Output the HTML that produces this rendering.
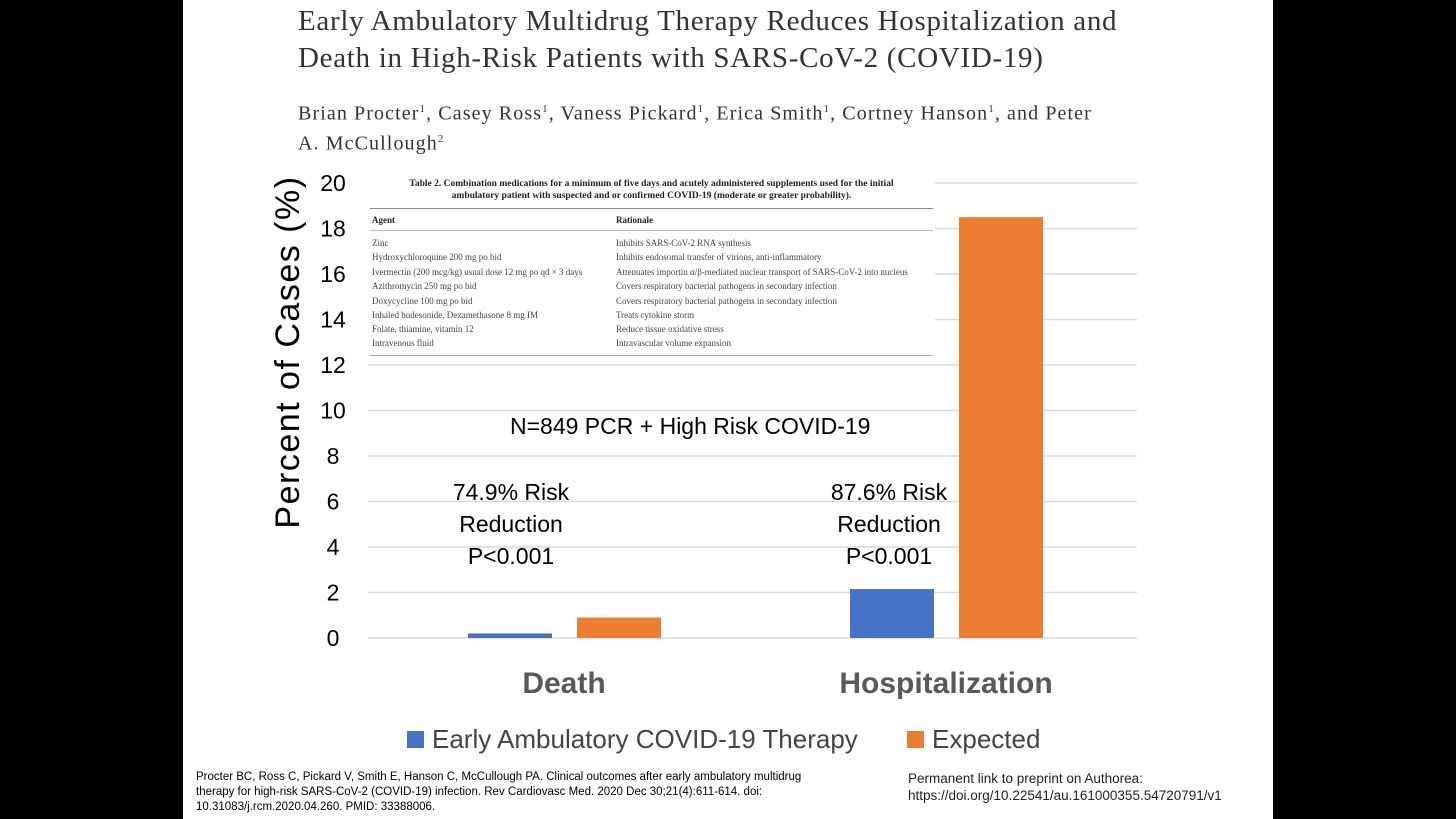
<!DOCTYPE html>
<html><head><meta charset="utf-8"><style>
body{margin:0;width:1456px;height:819px;background:#000;overflow:hidden;font-family:"Liberation Sans",sans-serif}
#slide{position:absolute;left:183px;top:0;width:1090px;height:819px;background:#fff}
.serif{font-family:"Liberation Serif",serif;color:#333}
.abs{position:absolute}
#tbl{position:absolute;left:368px;top:172px;width:567px;height:188px;background:#fff;font-family:"Liberation Serif",serif;color:#444;font-size:9px}
#tbl .row{position:absolute;left:4px;white-space:nowrap}
#tbl .r2{position:absolute;left:248px;white-space:nowrap}
</style></head><body>
<div id="slide"></div>
<div class="abs serif" style="left:298px;top:3px;font-size:29px;letter-spacing:0.7px;line-height:37px;width:1000px;white-space:nowrap">Early Ambulatory Multidrug Therapy Reduces Hospitalization and<br>Death in High-Risk Patients with SARS-CoV-2 (COVID-19)</div>
<div class="abs serif" style="left:298px;top:97px;font-size:20px;letter-spacing:1.1px;line-height:25px;width:1000px;white-space:nowrap">Brian Procter<sup style="font-size:11px">1</sup>, Casey Ross<sup style="font-size:11px">1</sup>, Vaness Pickard<sup style="font-size:11px">1</sup>, Erica Smith<sup style="font-size:11px">1</sup>, Cortney Hanson<sup style="font-size:11px">1</sup>, and Peter<br>A. McCullough<sup style="font-size:11px">2</sup></div>
<svg class="abs" style="left:0;top:0" width="1456" height="819">
<g id="grid"></g><g id="bars"></g><g id="ticks"></g>
<text x="299" y="352" transform="rotate(-90 299 352)" text-anchor="middle" font-size="34" letter-spacing="1.5" fill="#000">Percent of Cases (%)</text>
</svg>
<div id="tbl">
<div class="abs" style="left:0;top:6px;width:567px;text-align:center;font-weight:bold;color:#222;font-size:9.5px;line-height:12px">Table 2. Combination medications for a minimum of five days and acutely administered supplements used for the initial<br>ambulatory patient with suspected and or confirmed COVID-19 (moderate or greater probability).</div>
<div class="abs" style="left:2px;top:36px;width:563px;border-top:1px solid #888"></div>
<div class="row" style="top:43px;font-weight:bold;color:#222">Agent</div><div class="r2" style="top:43px;font-weight:bold;color:#222">Rationale</div>
<div class="abs" style="left:2px;top:58px;width:563px;border-top:1px solid #bbb"></div>
<div class="row" style="top:66px">Zinc</div><div class="r2" style="top:66px">Inhibits SARS-CoV-2 RNA synthesis</div>
<div class="row" style="top:80px">Hydroxychloroquine 200 mg po bid</div><div class="r2" style="top:80px">Inhibits endosomal transfer of virions, anti-inflammatory</div>
<div class="row" style="top:95px">Ivermectin (200 mcg/kg) usual dose 12 mg po qd × 3 days</div><div class="r2" style="top:95px">Attenuates importin α/β-mediated nuclear transport of SARS-CoV-2 into nucleus</div>
<div class="row" style="top:109px">Azithromycin 250 mg po bid</div><div class="r2" style="top:109px">Covers respiratory bacterial pathogens in secondary infection</div>
<div class="row" style="top:124px">Doxycycline 100 mg po bid</div><div class="r2" style="top:124px">Covers respiratory bacterial pathogens in secondary infection</div>
<div class="row" style="top:138px">Inhaled budesonide, Dexamethasone 8 mg IM</div><div class="r2" style="top:138px">Treats cytokine storm</div>
<div class="row" style="top:152px">Folate, thiamine, vitamin 12</div><div class="r2" style="top:152px">Reduce tissue oxidative stress</div>
<div class="row" style="top:166px">Intravenous fluid</div><div class="r2" style="top:166px">Intravascular volume expansion</div>
<div class="abs" style="left:2px;top:183px;width:563px;border-top:1px solid #aaa"></div>
</div>
<div class="abs" style="left:510px;top:413px;font-size:23px">N=849 PCR + High Risk COVID-19</div>
<div class="abs" style="left:411px;top:476px;width:200px;text-align:center;font-size:23px;line-height:32px">74.9% Risk<br>Reduction<br>P&lt;0.001</div>
<div class="abs" style="left:789px;top:476px;width:200px;text-align:center;font-size:23px;line-height:32px">87.6% Risk<br>Reduction<br>P&lt;0.001</div>
<div class="abs" style="left:407px;top:724px;font-size:26px;color:#444;white-space:nowrap">
<span style="display:inline-block;width:17px;height:17px;background:#4472c4;margin-right:8px"></span>Early Ambulatory COVID-19 Therapy
<span style="display:inline-block;width:17px;height:17px;background:#ed7d31;margin:0 8px 0 42px"></span>Expected</div>
<div class="abs" style="left:196px;top:770px;font-size:11.5px;line-height:15px;width:640px">Procter BC, Ross C, Pickard V, Smith E, Hanson C, McCullough PA. Clinical outcomes after early ambulatory multidrug therapy for high-risk SARS-CoV-2 (COVID-19) infection. Rev Cardiovasc Med. 2020 Dec 30;21(4):611-614. doi: 10.31083/j.rcm.2020.04.260. PMID: 33388006.</div>
<div class="abs" style="left:908px;top:770px;font-size:13.5px;line-height:17px;color:#222">Permanent link to preprint on Authorea:<br>https://doi.org/10.22541/au.161000355.54720791/v1</div>
<script>
const categories=["Death","Hospitalization"];
const earlyValues=[0.2,2.15];
const expectedValues=[0.9,18.5];
const yTicks=[0,2,4,6,8,10,12,14,16,18,20];
const NS="http://www.w3.org/2000/svg";
const y0=638,y1=183,yMax=20;
function yS(v){return y0-(v/yMax)*(y0-y1);}
const catCenters=[564,946];
function mk(t,a,p){const e=document.createElementNS(NS,t);for(const k in a)e.setAttribute(k,a[k]);p.appendChild(e);return e;}
const g=document.getElementById('grid'),b=document.getElementById('bars'),tk=document.getElementById('ticks');
yTicks.forEach(v=>{
 const l=mk('line',{x1:368,x2:1137,y1:yS(v),y2:yS(v),stroke:'#d9d9d9','stroke-width':1.5},g);
 
 
 const t=mk('text',{x:333,y:yS(v)+8,'text-anchor':'middle','font-size':23,fill:'#000'},tk);
 t.textContent=v;
 
 
});
categories.forEach((c,i)=>{
 const cx=catCenters[i],w=84;
 const r1=mk('rect',{x:cx-w-12,y:yS(earlyValues[i]),width:w,height:y0-yS(earlyValues[i]),fill:'#4472c4'},b);
 
 
 const r2=mk('rect',{x:cx+13,y:yS(expectedValues[i]),width:w,height:y0-yS(expectedValues[i]),fill:'#ed7d31'},b);
 
 
 const t=mk('text',{x:cx,y:693,'text-anchor':'middle','font-size':30,'font-weight':'bold',fill:'#595959'},tk);
 t.textContent=c;
 
 
});
</script>
</body></html>
